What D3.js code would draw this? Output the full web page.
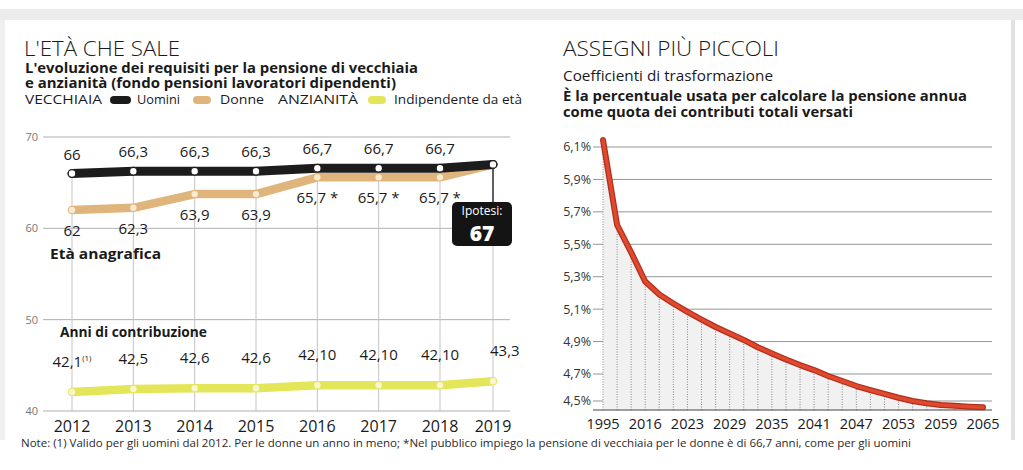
<!DOCTYPE html>
<html>
<head>
<meta charset="utf-8">
<script src="https://cdn.jsdelivr.net/npm/d3@7/dist/d3.min.js"></script>
<style>
  html, body { margin: 0; padding: 0; background: #ffffff; }
  svg { display: block; }
  text { font-family: "Open Sans", "Noto Sans", sans-serif; }
</style>
</head>
<body>
<svg id="chart" width="1023" height="470"></svg>
<script>
// ---------- LEFT CHART DATA ----------
const years = [2012, 2013, 2014, 2015, 2016, 2017, 2018, 2019];
const uominiEta = [66, 66.25, 66.25, 66.25, 66.58, 66.58, 66.58, 67];
const uominiLabels = ["66", "66,3", "66,3", "66,3", "66,7", "66,7", "66,7", ""];
const donneEta = [62, 62.25, 63.75, 63.75, 65.58, 65.58, 65.58, 67];
const donneLabels = ["62", "62,3", "63,9", "63,9", "65,7 *", "65,7 *", "65,7 *", ""];
const contribuzione = [42.08, 42.42, 42.5, 42.5, 42.83, 42.83, 42.83, 43.25];
const contribLabels = ["42,1", "42,5", "42,6", "42,6", "42,10", "42,10", "42,10", "43,3"];
const leftTicks = [40, 50, 60, 70];
const ipotesiValue = "67";

// ---------- RIGHT CHART DATA ----------
const coefAnni = [1995, 2010, 2013, 2016, 2019, 2021, 2023, 2025, 2027, 2029, 2031, 2033, 2035, 2037,
                  2039, 2041, 2043, 2045, 2047, 2049, 2051, 2053, 2055, 2057, 2059, 2061, 2063, 2065];
const coefValori = [6.143, 5.62, 5.45, 5.27, 5.19, 5.135, 5.083, 5.036, 4.99, 4.95, 4.91, 4.865, 4.827, 4.79,
                    4.755, 4.724, 4.685, 4.648, 4.611, 4.581, 4.552, 4.524, 4.50, 4.483, 4.47, 4.465, 4.458, 4.453];
const coefTicks = [4.5, 4.7, 4.9, 5.1, 5.3, 5.5, 5.7, 5.9, 6.1];
const coefTickLabels = ["4,5%", "4,7%", "4,9%", "5,1%", "5,3%", "5,5%", "5,7%", "5,9%", "6,1%"];
const coefXLabels = [1995, 2016, 2023, 2029, 2035, 2041, 2047, 2053, 2059, 2065];

const svg = d3.select("#chart");

// scan-like frame artifacts
svg.append("rect").attr("x", 0).attr("y", 9).attr("width", 1023).attr("height", 11).attr("fill", "#ececec");
svg.append("rect").attr("x", 0).attr("y", 20).attr("width", 5).attr("height", 420).attr("fill", "#efefef");
svg.append("rect").attr("x", 1011).attr("y", 20).attr("width", 4).attr("height", 420).attr("fill", "#e2e2e2");

// ---------- LEFT TITLES ----------
function txt(x, y, s, size, weight, len, fill) {
  const t = svg.append("text").attr("x", x).attr("y", y).text(s)
    .attr("font-size", size).attr("font-weight", weight || 400).attr("fill", fill || "#1a1a1a");
  if (len) t.attr("textLength", len).attr("lengthAdjust", "spacingAndGlyphs");
  return t;
}
txt(24, 56, "L'ETÀ CHE SALE", 20, 300, 156);
txt(25, 73, "L'evoluzione dei requisiti per la pensione di vecchiaia", 13.5, 700, 393);
txt(25, 88, "e anzianità  (fondo pensioni lavoratori dipendenti)", 13.5, 700, 371);

// legend
txt(25, 104, "VECCHIAIA", 13, 400, 77);
svg.append("rect").attr("x", 110).attr("y", 96).attr("width", 21).attr("height", 8).attr("rx", 4).attr("fill", "#1a1a1a");
txt(137, 104, "Uomini", 13, 400, 43);
svg.append("rect").attr("x", 193).attr("y", 96).attr("width", 18).attr("height", 8).attr("rx", 4).attr("fill", "#dfb57c");
txt(220, 104, "Donne", 13, 400, 44);
txt(278, 104, "ANZIANITÀ", 13, 400, 80);
svg.append("rect").attr("x", 368).attr("y", 96).attr("width", 18).attr("height", 8).attr("rx", 4).attr("fill", "#e4e65a");
txt(394, 104, "Indipendente da età", 13, 400, 128);

// ---------- LEFT CHART ----------
const xL = d3.scaleLinear().domain([2012, 2018, 2019]).range([72, 440, 493]);
const yL = d3.scaleLinear().domain([40, 70]).range([411, 137]);

const gL = svg.append("g");
gL.selectAll("line.grid").data(leftTicks).enter().append("line")
  .attr("x1", 43).attr("x2", 510).attr("y1", d => yL(d)).attr("y2", d => yL(d))
  .attr("stroke", "#9a9a9a").attr("stroke-width", 0.8);
gL.selectAll("text.ytick").data(leftTicks).enter().append("text")
  .attr("x", 38).attr("y", d => yL(d)).attr("dy", "0.35em").attr("text-anchor", "end")
  .attr("font-size", 11).attr("fill", "#777").text(d => d);

// vertical year lines
gL.selectAll("line.vert").data(years).enter().append("line")
  .attr("x1", d => xL(d)).attr("x2", d => xL(d))
  .attr("y1", (d, i) => yL(uominiEta[i])).attr("y2", yL(40))
  .attr("stroke", "#c4c4c4").attr("stroke-width", 1);

const lineGen = vals => d3.line().x((d, i) => xL(years[i])).y(d => yL(d))(vals);

gL.append("path").attr("d", lineGen(contribuzione)).attr("fill", "none")
  .attr("stroke", "#e4e65a").attr("stroke-width", 8.5).attr("stroke-linejoin", "round").attr("stroke-linecap", "round");
gL.append("path").attr("d", lineGen(donneEta)).attr("fill", "none")
  .attr("stroke", "#dfb57c").attr("stroke-width", 8.5).attr("stroke-linejoin", "round").attr("stroke-linecap", "round");
gL.append("path").attr("d", lineGen(uominiEta)).attr("fill", "none")
  .attr("stroke", "#1c1c1c").attr("stroke-width", 9).attr("stroke-linejoin", "round").attr("stroke-linecap", "round");

// dots
gL.selectAll("circle.c").data(contribuzione).enter().append("circle")
  .attr("cx", (d, i) => xL(years[i])).attr("cy", d => yL(d)).attr("r", 3.2).attr("fill", "#f7f7cf");
gL.selectAll("circle.d").data(donneEta.slice(0, 7)).enter().append("circle")
  .attr("cx", (d, i) => xL(years[i])).attr("cy", d => yL(d)).attr("r", 3.2).attr("fill", "#f6ead0");
gL.selectAll("circle.u").data(uominiEta).enter().append("circle")
  .attr("cx", (d, i) => xL(years[i])).attr("cy", d => yL(d)).attr("r", 3.8)
  .attr("fill", "#ffffff").attr("stroke", "#1c1c1c").attr("stroke-width", 1.2);

// labels
gL.selectAll("text.ul").data(uominiLabels).enter().append("text")
  .attr("x", (d, i) => xL(years[i])).attr("y", (d, i) => yL(uominiEta[i]) - 14)
  .attr("text-anchor", "middle").attr("font-size", 15).attr("fill", "#1a1a1a").text(d => d);
gL.selectAll("text.dl").data(donneLabels).enter().append("text")
  .attr("x", (d, i) => xL(years[i])).attr("y", (d, i) => yL(donneEta[i]) + 26)
  .attr("text-anchor", "middle").attr("font-size", 15).attr("fill", "#1a1a1a").text(d => d);
const cl = gL.selectAll("text.cl").data(contribLabels).enter().append("text")
  .attr("x", (d, i) => i === contribLabels.length - 1 ? xL(years[i]) - 3 : xL(years[i]))
  .attr("y", (d, i) => yL(contribuzione[i]) - 25)
  .attr("text-anchor", (d, i) => i === contribLabels.length - 1 ? "start" : "middle")
  .attr("font-size", 15).attr("fill", "#1a1a1a");
cl.each(function(d, i) {
  const t = d3.select(this);
  t.append("tspan").text(d);
  if (i === 0) t.append("tspan").attr("font-size", 8).attr("dy", -6).text("(1)");
});

// section headings
txt(50, 259, "Età anagrafica", 15, 700, 111);
txt(60, 337, "Anni di contribuzione", 15, 700, 147);

// ipotesi box
const xi = xL(2019), yi = yL(67);
gL.append("line").attr("x1", xi).attr("x2", xi).attr("y1", yi).attr("y2", 203)
  .attr("stroke", "#1a1a1a").attr("stroke-width", 1.3);
gL.append("circle").attr("cx", xi).attr("cy", yi).attr("r", 3.8)
  .attr("fill", "#ffffff").attr("stroke", "#1c1c1c").attr("stroke-width", 1.2);
gL.append("rect").attr("x", 452).attr("y", 202).attr("width", 60).attr("height", 44).attr("rx", 5).attr("fill", "#141414");
gL.append("text").attr("x", 482).attr("y", 215).attr("text-anchor", "middle").attr("font-size", 12)
  .attr("fill", "#ffffff").text("Ipotesi:");
gL.append("text").attr("x", 482).attr("y", 241).attr("text-anchor", "middle").attr("font-size", 21)
  .attr("font-weight", 800).attr("fill", "#ffffff").text(ipotesiValue);

// year axis labels
gL.selectAll("text.year").data(years).enter().append("text")
  .attr("x", d => xL(d)).attr("y", 432).attr("text-anchor", "middle")
  .attr("font-size", 16).attr("fill", "#1a1a1a").text(d => d);

// ---------- RIGHT TITLES ----------
txt(563, 56, "ASSEGNI PIÙ PICCOLI", 20, 300, 216);
txt(563, 81, "Coefficienti di trasformazione", 14.5, 400, 210);
txt(563, 101, "È la percentuale usata per calcolare la pensione annua", 13.5, 700, 404);
txt(563, 117, "come quota dei contributi totali versati", 13.5, 700, 290);

// ---------- RIGHT CHART ----------
const xR = d3.scalePoint().domain(coefAnni).range([603, 983]);
const yR = d3.scaleLinear().domain([4.5, 4.7, 6.1]).range([401, 374, 147]);
const baseR = 410;

const gR = svg.append("g");
gR.selectAll("line.grid").data(coefTicks).enter().append("line")
  .attr("x1", 593).attr("x2", 992).attr("y1", d => yR(d)).attr("y2", d => yR(d))
  .attr("stroke", "#7a7a7a").attr("stroke-width", 0.8);
gR.selectAll("text.ytick").data(coefTicks).enter().append("text")
  .attr("x", 591).attr("y", d => yR(d)).attr("dy", "0.35em").attr("text-anchor", "end")
  .attr("font-size", 12.5).attr("fill", "#333").text((d, i) => coefTickLabels[i]);

// light area under curve
const area = d3.area().x((d, i) => xR(coefAnni[i])).y0(baseR).y1(d => yR(d));
gR.append("path").attr("d", area(coefValori)).attr("fill", "#f1f1f1");

// dotted drop lines
gR.selectAll("line.drop").data(coefValori).enter().append("line")
  .attr("x1", (d, i) => xR(coefAnni[i])).attr("x2", (d, i) => xR(coefAnni[i]))
  .attr("y1", baseR).attr("y2", d => yR(d))
  .attr("stroke", "#8a8a8a").attr("stroke-width", 1).attr("stroke-dasharray", "1,1.5");

// baseline
gR.append("line").attr("x1", 593).attr("x2", 992).attr("y1", baseR).attr("y2", baseR)
  .attr("stroke", "#444").attr("stroke-width", 1);

// curve
const lineR = d3.line().x((d, i) => xR(coefAnni[i])).y(d => yR(d));
gR.append("path").attr("d", lineR(coefValori)).attr("fill", "none")
  .attr("stroke", "#b32d1d").attr("stroke-width", 6).attr("stroke-linejoin", "round").attr("stroke-linecap", "round");
gR.append("path").attr("d", lineR(coefValori)).attr("fill", "none")
  .attr("stroke", "#df4a2e").attr("stroke-width", 3.5).attr("stroke-linejoin", "round").attr("stroke-linecap", "round");

// x labels
gR.selectAll("text.xl").data(coefXLabels).enter().append("text")
  .attr("x", d => xR(d)).attr("y", 429).attr("text-anchor", "middle")
  .attr("font-size", 14.5).attr("fill", "#1a1a1a").text(d => d);

// ---------- FOOTNOTE ----------
txt(21, 447, "Note: (1) Valido per gli uomini dal 2012. Per le donne un anno in meno; *Nel pubblico impiego la pensione di vecchiaia per le donne è di 66,7 anni, come per gli uomini",
    10.5, 400, 890, "#2a2a2a");
</script>
</body>
</html>
